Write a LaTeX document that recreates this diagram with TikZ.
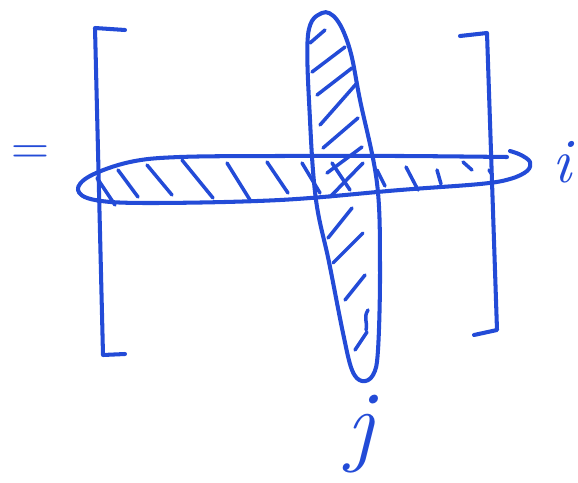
\documentclass[tikz,border=0pt]{standalone}
\usetikzlibrary{calc}
\definecolor{penblue}{RGB}{35,75,215}

\begin{document}
\begin{tikzpicture}[
		x=0.02cm, y=-0.02cm,
		% hand-drawn strokes
		pen/.style={draw=penblue, line width=2.3pt, line cap=round, line join=round},
		hatch/.style={draw=penblue, line width=2pt, line cap=round},
		% hand labels
		handlabel/.style 2 args={text=penblue, inner sep=0pt, font=\fontsize{#1}{#1}\selectfont\itshape #2}
	]
	\useasboundingbox (0,0) rectangle (578,483);

	% ==========================================
	% 1. MATRIX BRACKETS
	% ==========================================
	\draw[pen] (125,30) -- (95,28) -- (103,355) -- (125,354);
	\draw[pen] (460,36) -- (487,33) -- (497,330) -- (474,335);

	% ==========================================
	% 2. ROW i (HORIZONTAL LOOP)
	% ==========================================
	\draw[pen] plot[smooth, tension=0.6] coordinates {
			(507,157) (400,156) (280,156) (180,157) (130,162) (90,176) (78,190)
			(95,200) (150,203) (280,200) (400,190) (480,184) (510,179) (527,171)
			(530,162) (521,155) (510,151)};

	% row hatching (left of the column)
	\foreach \xa/\ya/\xb/\yb in {97/178/115/205, 118/170/138/197, 147/165/172/195,
			182/160/213/198, 227/163/250/200, 267/162/288/193, 302/163/320/193,
			332/163/350/190}
	\draw[hatch] (\xa,\ya) -- (\xb,\yb);
	% row hatching (right of the column, fading out)
	\foreach \xa/\ya/\xb/\yb in {377/170/385/186, 406/167/418/190, 437/170/441/184,
			463/162/472/170, 489/170/491/173}
	\draw[hatch] (\xa,\ya) -- (\xb,\yb);

	% ==========================================
	% 3. COLUMN j (VERTICAL LOOP)
	% ==========================================
	\draw[pen] plot[smooth cycle, tension=0.6] coordinates {
			(322,13) (308,35) (310,120) (316,200) (329,262) (343,333) (352,370)
			(362,381) (373,375) (378,350) (380,267) (377,183) (360,100) (350,50) (337,20)};

	% column hatching
	\foreach \xa/\ya/\xb/\yb in {310/43/325/30, 312/72/345/47, 317/95/352/68,
			320/125/357/83, 323/148/358/118, 327/173/362/147, 330/197/363/163,
			328/238/352/208, 333/263/363/233, 345/300/365/275, 355/350/367/332}
	\draw[hatch] (\xa,\ya) -- (\xb,\yb);
	\draw[hatch] (368,310) .. controls (363,318) and (368,322) .. (366,330);

	% ==========================================
	% 4. LABELS
	% ==========================================
	\node[handlabel={30}{\upshape}] (equals) at (30,155) {=};
	\node[handlabel={36}{}] (rowlabel) at (562,162) {i};
	\node[handlabel={52}{}] (collabel) at (360,434) {j};

\end{tikzpicture}
\end{document}
